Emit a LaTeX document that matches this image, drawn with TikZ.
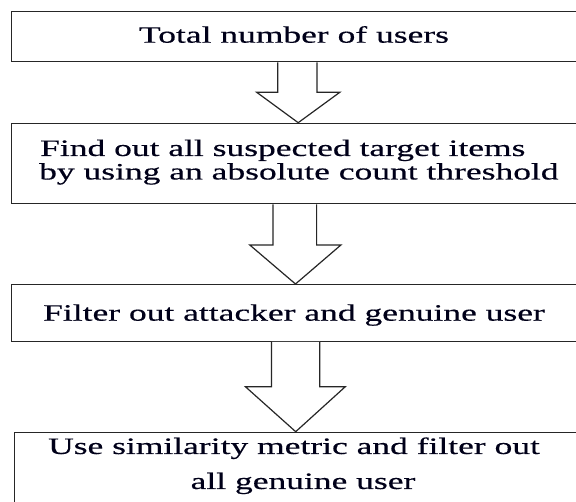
\documentclass[tikz,border=0pt]{standalone}
\usepackage{fontspec}
\setmainfont{Liberation Serif}[FakeStretch=1.51, FakeBold=0.45]
\tikzset{
  frame/.style={draw=black!85, line width=1.3pt, fill=white, inner sep=0pt, anchor=north west},
  caption/.style={inner sep=0pt, text=black!90!blue, font=\fontsize{23.5}{24}\selectfont},
  blockarrow/.style={draw=black!85, line width=1.2pt, fill=white, line join=miter},
}
\begin{document}
\begin{tikzpicture}[x=1pt, y=-1pt]
  \useasboundingbox (0,0) rectangle (576,502);
  \fill[white] (0,0) rectangle (576,502);
  \clip (0,0) rectangle (576,502);

  % process boxes (they run past the right and bottom edges)
  \node[frame, minimum width=600pt, minimum height=50pt]   (b1) at (11,11) {};
  \node[frame, minimum width=600pt, minimum height=80.3pt] (b2) at (11,122.7) {};
  \node[frame, minimum width=600pt, minimum height=56.7pt] (b3) at (11,284) {};
  \node[frame, minimum width=600pt, minimum height=100pt]  (b4) at (13.5,431.7) {};

  % box texts
  \node[caption, anchor=base] (t1) at (294,42.7) {Total number of users};
  \node[caption, anchor=base west] (t2a) at (40,156) {Find out all suspected target items};
  \node[caption, anchor=base west] (t2b) at (39,179.5) {by using an absolute count threshold};
  \node[caption, anchor=base] (t3) at (294,320.7) {Filter out attacker and genuine user};
  \node[caption, anchor=base] (t4a) at (294,454) {Use similarity metric and filter out};
  \node[caption, anchor=base] (t4b) at (303,489) {all genuine user};

  % hollow block arrows between the boxes
  \draw[blockarrow] (277.7,0 |- b1.south) -- (277.7,92.3) -- (256.7,92.3)
    -- (298.2,0 |- b2.north) -- (339.8,92.3) -- (317,92.3) -- (317,0 |- b1.south);
  \draw[blockarrow] (272.9,0 |- b2.south) -- (272.9,245) -- (249.8,245)
    -- (295.5,0 |- b3.north) -- (340.9,245) -- (316.6,245) -- (316.6,0 |- b2.south);
  \draw[blockarrow] (271.5,0 |- b3.south) -- (271.5,386.7) -- (245.4,386.7)
    -- (295.7,0 |- b4.north) -- (345.3,386.7) -- (319.8,386.7) -- (319.8,0 |- b3.south);
\end{tikzpicture}
\end{document}
